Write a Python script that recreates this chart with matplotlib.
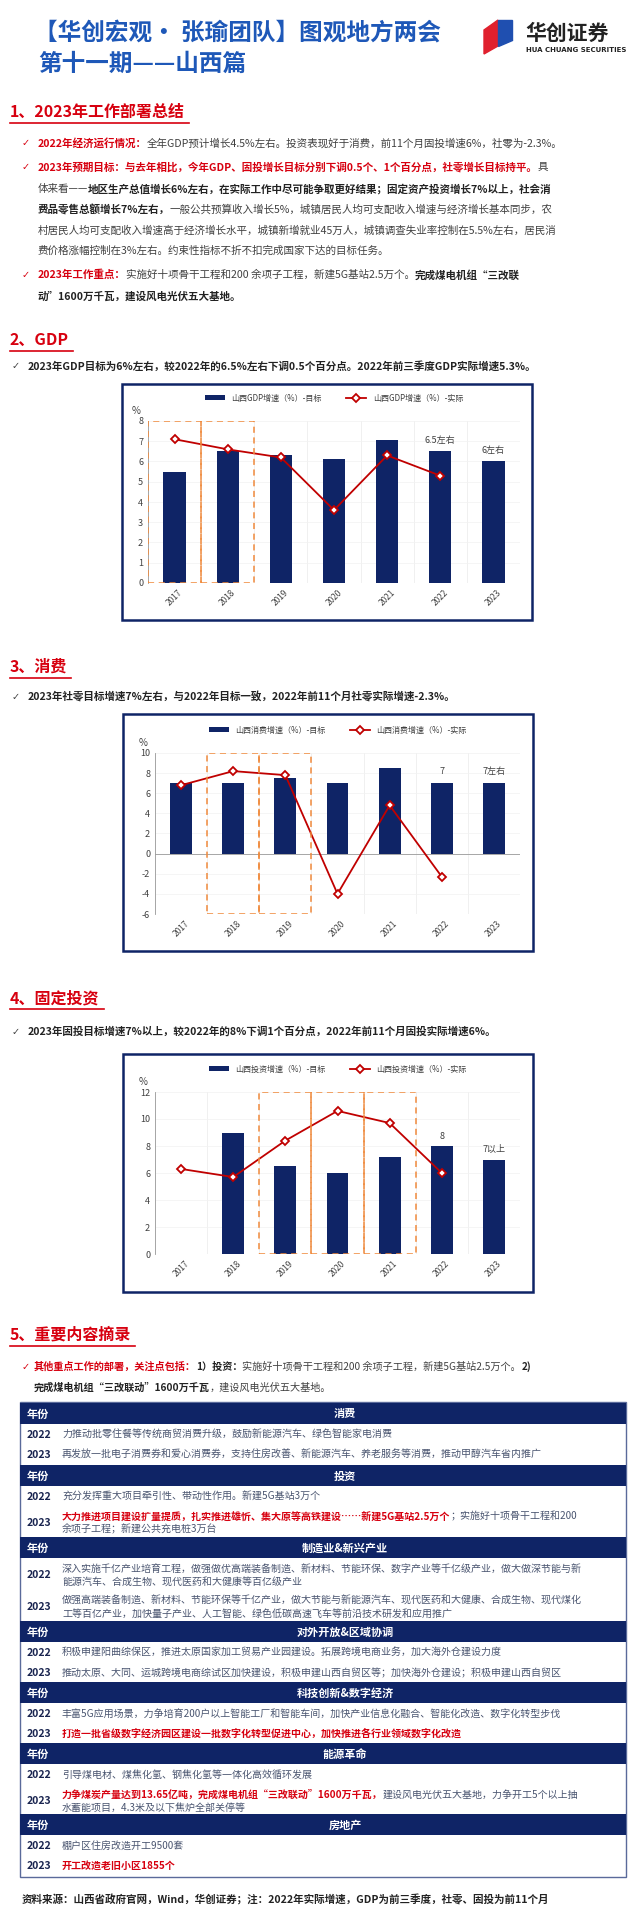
import matplotlib
matplotlib.use("Agg")
import matplotlib.pyplot as plt
import matplotlib.patches as mpatches
import numpy as np

plt.rcParams['font.family'] = ['Noto Sans CJK SC', 'DejaVu Sans']
plt.rcParams['axes.unicode_minus'] = False

years = ['2017', '2018', '2019', '2020', '2021', '2022', '2023']

gdp_target = [5.5, 6.5, 6.3, 6.1, 7.05, 6.5, 6.0]
gdp_actual = [7.1, 6.6, 6.2, 3.6, 6.3, 5.3, np.nan]

cons_target = [7.0, 7.0, 7.5, 7.0, 8.5, 7.0, 7.0]
cons_actual = [6.8, 8.2, 7.8, -4.0, 4.8, -2.3, np.nan]

inv_target = [np.nan, 9.0, 6.5, 6.0, 7.2, 8.0, 7.0]
inv_actual = [6.3, 5.7, 8.4, 10.6, 9.7, 6.0, np.nan]

NAVY = '#0f2466'
RED = '#d7000f'
LINE_RED = '#c00000'
GRAY = '#404040'
BLUE = '#1e58b8'
ORANGE = '#f08a3c'

W, H = 640, 1919
fig = plt.figure(figsize=(W / 100, H / 100), dpi=100)
r = fig.canvas.get_renderer()


def fx(x):
    return x / W


def fy(y):
    return 1 - y / H


def runs(x, y, parts, size=8):
    for s, color, bold in parts:
        t = fig.text(fx(x), fy(y), s, color=color, fontsize=size,
                     fontweight='bold' if bold else 'normal', va='center', ha='left')
        x += t.get_window_extent(renderer=r).width
    return x


def heading(y, s):
    t = fig.text(fx(10), fy(y), s, color=RED, fontsize=11.5, fontweight='bold',
                 style='italic', va='center', ha='left')
    w = t.get_window_extent(renderer=r).width
    fig.add_artist(plt.Line2D([fx(10), fx(14 + w)], [fy(y + 11)] * 2, color=RED, lw=1.2))


def check(x, y, color=GRAY):
    fig.text(fx(x), fy(y), '✓', color=color, fontsize=7, va='center', ha='left',
             family='DejaVu Sans')


# ---- title ----
fig.text(fx(34), fy(33), '【华创宏观• 张瑜团队】图观地方两会', color=BLUE, fontsize=17,
         fontweight='bold', va='center')
fig.text(fx(38), fy(64), '第十一期——山西篇', color=BLUE, fontsize=17, fontweight='bold',
         va='center')
fig.add_artist(mpatches.Polygon([(fx(484), fy(54)), (fx(484), fy(30)), (fx(498), fy(20)),
                                 (fx(498), fy(46))], closed=True, color='#e0202e'))
fig.add_artist(mpatches.Polygon([(fx(498), fy(46)), (fx(498), fy(20)), (fx(512), fy(20)),
                                 (fx(512), fy(40))], closed=True, color='#1f4fb0'))
fig.text(fx(525), fy(33), '华创证券', color='#222222', fontsize=15, fontweight='bold', va='center')
fig.text(fx(526), fy(50), 'HUA CHUANG SECURITIES', color='#222222', fontsize=5,
         fontweight='bold', va='center', family='DejaVu Sans')

# ---- section 1 ----
heading(112, '1、2023年工作部署总结')
check(22, 143, RED)
runs(38, 143, [('2022年经济运行情况：', RED, True),
               ('全年GDP预计增长4.5%左右。投资表现好于消费，前11个月固投增速6%，社零为-2.3%。', GRAY, False)], 7.6)
check(22, 167, RED)
runs(38, 167, [('2023年预期目标：与去年相比，今年GDP、固投增长目标分别下调0.5个、1个百分点，社零增长目标持平。', RED, True),
               ('具', GRAY, False)], 7.6)
runs(38, 189, [('体来看——', GRAY, False),
               ('地区生产总值增长6%左右，在实际工作中尽可能争取更好结果；固定资产投资增长7%以上，社会消', '#222222', True)], 7.6)
runs(38, 210, [('费品零售总额增长7%左右，', '#222222', True),
               ('一般公共预算收入增长5%，城镇居民人均可支配收入增速与经济增长基本同步，农', GRAY, False)], 7.6)
runs(38, 231, [('村居民人均可支配收入增速高于经济增长水平，城镇新增就业45万人，城镇调查失业率控制在5.5%左右，居民消', GRAY, False)], 7.6)
runs(38, 251, [('费价格涨幅控制在3%左右。约束性指标不折不扣完成国家下达的目标任务。', GRAY, False)], 7.6)
check(22, 275, RED)
runs(38, 275, [('2023年工作重点：', RED, True),
               ('实施好十项骨干工程和200 余项子工程，新建5G基站2.5万个。', GRAY, False),
               ('完成煤电机组“三改联', '#222222', True)], 7.6)
runs(38, 297, [('动”1600万千瓦，建设风电光伏五大基地。', '#222222', True)], 7.6)


# ---- charts ----
def chart(box, axrect, target, actual, ylim, yticks, names, dash_idx, notes):
    x0, y0, x1, y1 = box
    fig.add_artist(mpatches.Rectangle((fx(x0), fy(y1)), fx(x1 - x0), (y1 - y0) / H,
                                      fill=False, ec=NAVY, lw=1.8))
    ax0, ay0, ax1, ay1 = axrect
    ax = fig.add_axes([fx(ax0), fy(ay1), fx(ax1 - ax0), (ay1 - ay0) / H])
    xs = np.arange(len(years))
    bars = ax.bar(xs, np.nan_to_num(target), width=0.42, color=NAVY, label=names[0], zorder=2)
    line, = ax.plot(xs, actual, color=LINE_RED, lw=1.3, marker='D', ms=4.5, mfc='white',
                    mec=LINE_RED, mew=1.3, label=names[1], zorder=3)
    ax.set_xlim(-0.5, len(years) - 0.5)
    ax.set_ylim(*ylim)
    ax.set_yticks(yticks)
    ax.set_xticks(xs)
    ax.set_xticklabels(years, rotation=45, fontsize=6, color=GRAY)
    ax.tick_params(axis='y', labelsize=6.5, colors=GRAY, length=0)
    ax.tick_params(axis='x', length=0)
    for sp in ['top', 'right', 'bottom']:
        ax.spines[sp].set_visible(False)
    ax.spines['left'].set_color('#999999')
    ax.spines['left'].set_linewidth(0.6)
    ax.axhline(0, color='#999999', lw=0.6, zorder=1)
    for b in np.arange(-0.5, len(years), 1.0):
        ax.axvline(b, color='#eeeeee', lw=0.6, zorder=0)
    for v in yticks:
        ax.axhline(v, color='#f2f2f2', lw=0.5, zorder=0)
    for i in dash_idx:
        ax.add_patch(mpatches.Rectangle((i - 0.5, ylim[0]), 1.0, ylim[1] - ylim[0], fill=False,
                                        ec=ORANGE, ls=(0, (4, 3)), lw=1.1, zorder=4))
    for i, yv, s in notes:
        ax.text(i, yv, s, ha='center', va='bottom', fontsize=6.5, color=GRAY)
    ax.text(-0.02, 1.03, '%', transform=ax.transAxes, ha='right', va='bottom',
            fontsize=7, color=GRAY)
    ax.legend([bars, line], names, loc='lower center', bbox_to_anchor=(0.5, 1.07), ncol=2,
              frameon=False, fontsize=5.8, handlelength=2.5, columnspacing=3, labelcolor=GRAY)
    return ax


heading(340, '2、GDP')
check(12, 366)
runs(28, 366, [('2023年GDP目标为6%左右，较2022年的6.5%左右下调0.5个百分点。2022年前三季度GDP实际增速5.3%。', '#222222', True)], 7.6)
chart((122, 384, 532, 620), (148, 421, 520, 583), gdp_target, gdp_actual, (0, 8), range(0, 9),
      ['山西GDP增速（%）-目标', '山西GDP增速（%）-实际'], [0, 1],
      [(5, 6.8, '6.5左右'), (6, 6.3, '6左右')])

heading(667, '3、消费')
check(12, 697)
runs(28, 697, [('2023年社零目标增速7%左右，与2022年目标一致，2022年前11个月社零实际增速-2.3%。', '#222222', True)], 7.6)
chart((123, 714, 533, 951), (155, 753, 520, 914), cons_target, cons_actual, (-6, 10),
      range(-6, 11, 2), ['山西消费增速（%）-目标', '山西消费增速（%）-实际'], [1, 2],
      [(5, 7.7, '7'), (6, 7.7, '7左右')])

heading(998, '4、固定投资')
check(12, 1032)
runs(28, 1032, [('2023年固投目标增速7%以上，较2022年的8%下调1个百分点，2022年前11个月固投实际增速6%。', '#222222', True)], 7.6)
chart((123, 1054, 533, 1292), (155, 1092, 520, 1254), inv_target, inv_actual, (0, 12),
      range(0, 13, 2), ['山西投资增速（%）-目标', '山西投资增速（%）-实际'], [2, 3, 4],
      [(5, 8.4, '8'), (6, 7.4, '7以上')])

# ---- section 5 ----
heading(1335, '5、重要内容摘录')
check(22, 1367, RED)
runs(34, 1367, [('其他重点工作的部署，关注点包括：', RED, True), ('1）投资：', '#222222', True),
                ('实施好十项骨干工程和200 余项子工程，新建5G基站2.5万个。', GRAY, False),
                ('2)', '#222222', True)], 7.3)
runs(34, 1388, [('完成煤电机组“三改联动”1600万千瓦', '#222222', True),
                ('，建设风电光伏五大基地。', GRAY, False)], 7.3)

TX = '#4a5570'
sections = [
    ('消费', 1403, [('2022', [[('力推动批零住餐等传统商贸消费升级，鼓励新能源汽车、绿色智能家电消费', TX, False)]]),
                   ('2023', [[('再发放一批电子消费券和爱心消费券，支持住房改善、新能源汽车、养老服务等消费，推动甲醇汽车省内推广', TX, False)]])]),
    ('投资', 1465, [('2022', [[('充分发挥重大项目牵引性、带动性作用。新建5G基站3万个', TX, False)]]),
                   ('2023', [[('大力推进项目建设扩量提质，扎实推进雄忻、集大原等高铁建设……新建5G基站2.5万个', RED, True),
                              ('；实施好十项骨干工程和200', TX, False)],
                             [('余项子工程；新建公共充电桩3万台', TX, False)]])]),
    ('制造业&新兴产业', 1537, [('2022', [[('深入实施千亿产业培育工程，做强做优高端装备制造、新材料、节能环保、数字产业等千亿级产业，做大做深节能与新', TX, False)],
                                       [('能源汽车、合成生物、现代医药和大健康等百亿级产业', TX, False)]]),
                              ('2023', [[('做强高端装备制造、新材料、节能环保等千亿产业，做大节能与新能源汽车、现代医药和大健康、合成生物、现代煤化', TX, False)],
                                       [('工等百亿产业，加快量子产业、人工智能、绿色低碳高速飞车等前沿技术研发和应用推广', TX, False)]])]),
    ('对外开放&区域协调', 1621, [('2022', [[('积极申建阳曲综保区，推进太原国家加工贸易产业园建设。拓展跨境电商业务，加大海外仓建设力度', TX, False)]]),
                                ('2023', [[('推动太原、大同、运城跨境电商综试区加快建设，积极申建山西自贸区等；加快海外仓建设；积极申建山西自贸区', TX, False)]])]),
    ('科技创新&数字经济', 1682, [('2022', [[('丰富5G应用场景，力争培育200户以上智能工厂和智能车间，加快产业信息化融合、智能化改造、数字化转型步伐', TX, False)]]),
                                ('2023', [[('打造一批省级数字经济园区建设一批数字化转型促进中心，加快推进各行业领域数字化改造', RED, True)]])]),
    ('能源革命', 1743, [('2022', [[('引导煤电材、煤焦化氢、钢焦化氢等一体化高效循环发展', TX, False)]]),
                       ('2023', [[('力争煤炭产量达到13.65亿吨，完成煤电机组“三改联动”1600万千瓦，', RED, True),
                                  ('建设风电光伏五大基地，力争开工5个以上抽', TX, False)],
                                 [('水蓄能项目，4.3米及以下焦炉全部关停等', TX, False)]])]),
    ('房地产', 1814, [('2022', [[('棚户区住房改造开工9500套', TX, False)]]),
                     ('2023', [[('开工改造老旧小区1855个', RED, True)]])]),
]

TL, TR = 20, 626
fig.add_artist(mpatches.Rectangle((fx(TL), fy(1877)), fx(TR - TL), (1877 - 1402) / H,
                                  fill=False, ec='#5a6a9a', lw=1.0))
for title, top, rows in sections:
    fig.add_artist(mpatches.Rectangle((fx(TL), fy(top + 21)), fx(TR - TL), 21 / H,
                                      color=NAVY, lw=0))
    fig.text(fx(27), fy(top + 11), '年份', color='white', fontsize=8, fontweight='bold', va='center')
    fig.text(fx(345), fy(top + 11), title, color='white', fontsize=8, fontweight='bold',
             va='center', ha='center')
    y = top + 21
    for yr, lines in rows:
        n = len(lines)
        hgt = 20 if n == 1 else 32
        cy = y + hgt / 2 + 1
        fig.text(fx(27), fy(cy), yr, color='#1a2550', fontsize=7.5, fontweight='bold', va='center')
        for k, ln in enumerate(lines):
            ly = cy if n == 1 else cy - 6.5 + 13 * k
            runs(62, ly, ln, 7.2)
        y += hgt

fig.text(fx(22), fy(1900), '资料来源：山西省政府官网，Wind，华创证券；注：2022年实际增速，GDP为前三季度，社零、固投为前11个月',
         color='#222222', fontsize=7.6, fontweight='bold', va='center')

fig.savefig('out.png', dpi=100)
